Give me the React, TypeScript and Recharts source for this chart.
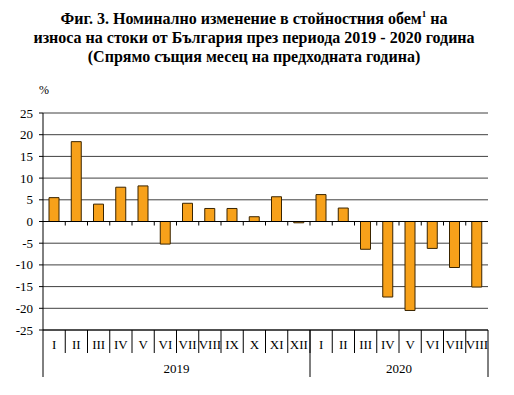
import React from 'react';
import { BarChart, Bar, XAxis, YAxis, CartesianGrid, ReferenceLine } from 'recharts';

const months = ['I', 'II', 'III', 'IV', 'V', 'VI', 'VII', 'VIII', 'IX', 'X', 'XI', 'XII', 'I', 'II', 'III', 'IV', 'V', 'VI', 'VII', 'VIII'];
const monthYears = ['2019', '2019', '2019', '2019', '2019', '2019', '2019', '2019', '2019', '2019', '2019', '2019', '2020', '2020', '2020', '2020', '2020', '2020', '2020', '2020'];
const values = [5.5, 18.4, 4.0, 7.9, 8.2, -5.2, 4.2, 3.0, 3.0, 1.1, 5.7, -0.3, 6.2, 3.1, -6.4, -17.4, -20.5, -6.2, -10.6, -15.1];
const yearLabels = ['2019', '2020'];
const yTicks = [-25, -20, -15, -10, -5, 0, 5, 10, 15, 20, 25];

const data = months.map((m, i) => ({ id: `${monthYears[i]}-${m}`, month: m, year: monthYears[i], value: values[i] }));

const FONT = '"Liberation Serif", "Times New Roman", serif';

const MonthTick = (props: any) => {
  const { x, y, payload, index } = props;
  const half = payload && payload.offset ? payload.offset : 0;
  return (
    <g>
      {index > 0 && <line x1={x - half} x2={x - half} y1={y} y2={y + 23} stroke="#000" strokeWidth={1} />}
      <text x={x} y={y + 19} textAnchor="middle" fontSize={13} fill="#000" style={{ fontFamily: FONT }}>
        {data[index] ? data[index].month : ''}
      </text>
    </g>
  );
};

const YearTick = (props: any) => {
  const { x, y, payload, index } = props;
  const half = payload && payload.offset ? payload.offset : 0;
  const d = data[index];
  if (!d) return null;
  const isStart = index === 0 || data[index - 1].year !== d.year;
  const isLast = index === data.length - 1;
  const count = data.filter((r) => r.year === d.year).length;
  return (
    <g>
      {isStart && <line x1={x - half} x2={x - half} y1={y - 20} y2={y + 27} stroke="#000" strokeWidth={1} />}
      {isLast && <line x1={x + half} x2={x + half} y1={y - 20} y2={y + 27} stroke="#000" strokeWidth={1} />}
      {isStart && yearLabels.includes(d.year) && (
        <text x={x - half + count * half} y={y + 23} textAnchor="middle" fontSize={13} fill="#000" style={{ fontFamily: FONT }}>
          {d.year}
        </text>
      )}
    </g>
  );
};

const YTick = (props: any) => {
  const { x, y, payload } = props;
  return (
    <text x={x} y={y + 4.5} textAnchor="end" fontSize={13} fill="#000" style={{ fontFamily: FONT }}>
      {payload.value}
    </text>
  );
};

const ZeroLine = (props: any) => {
  const { x1, x2, y1, y2 } = props;
  const n = data.length;
  const step = (x2 - x1) / n;
  const ticks = [];
  for (let i = 1; i < n; i++) {
    const tx = x1 + step * i;
    ticks.push(<line key={i} x1={tx} x2={tx} y1={y1} y2={y1 + 4} stroke="#000" strokeWidth={1} />);
  }
  return (
    <g>
      <line x1={x1} x2={x2} y1={y1} y2={y2} stroke="#000" strokeWidth={1} />
      {ticks}
    </g>
  );
};

export default function App() {
  return (
    <div style={{ position: 'absolute', left: 0, top: 0, width: 514, height: 395, background: '#fff' }}>
      <div
        style={{
          position: 'absolute',
          left: 0,
          width: 508,
          top: 9,
          textAlign: 'center',
          fontFamily: FONT,
          fontWeight: 'bold',
          fontSize: 16,
          lineHeight: '19px',
          color: '#000',
        }}
      >
        <div>
          Фиг. 3. Номинално изменение в стойностния обем<sup style={{ fontSize: 9, verticalAlign: 'top', lineHeight: '10px' }}>1</sup> на
        </div>
        <div>износа на стоки от България през периода 2019 - 2020 година</div>
        <div>(Спрямо същия месец на предходната година)</div>
      </div>
      <div style={{ position: 'absolute', left: 39, top: 83, fontFamily: FONT, fontSize: 12, color: '#000' }}>%</div>
      <BarChart
        width={514}
        height={395}
        data={data}
        margin={{ top: 113, right: 26, bottom: 18, left: 0 }}
        barSize={10}
      >
        <CartesianGrid horizontal vertical={false} stroke="#404040" strokeWidth={1} />
        <XAxis
          dataKey="id"
          interval={0}
          height={20}
          tickSize={0}
          tickMargin={0}
          axisLine={{ stroke: '#000' }}
          tickLine={false}
          tick={<MonthTick />}
        />
        <XAxis
          xAxisId="year"
          dataKey="id"
          interval={0}
          height={27}
          tickSize={0}
          tickMargin={0}
          axisLine={false}
          tickLine={false}
          tick={<YearTick />}
        />
        <YAxis
          width={43}
          domain={[-25, 25]}
          ticks={yTicks}
          interval={0}
          tickSize={4}
          tickMargin={6}
          axisLine={{ stroke: '#000' }}
          tickLine={{ stroke: '#000' }}
          tick={<YTick />}
        />
        <YAxis
          yAxisId="r"
          orientation="right"
          width={0}
          domain={[-25, 25]}
          ticks={yTicks}
          tick={false}
          tickLine={false}
          axisLine={{ stroke: '#888' }}
        />
        <Bar dataKey="value" fill="#F7A11A" stroke="#3a2500" strokeWidth={1} isAnimationActive={false} />
        <ReferenceLine y={0} shape={<ZeroLine />} />
      </BarChart>
    </div>
  );
}
